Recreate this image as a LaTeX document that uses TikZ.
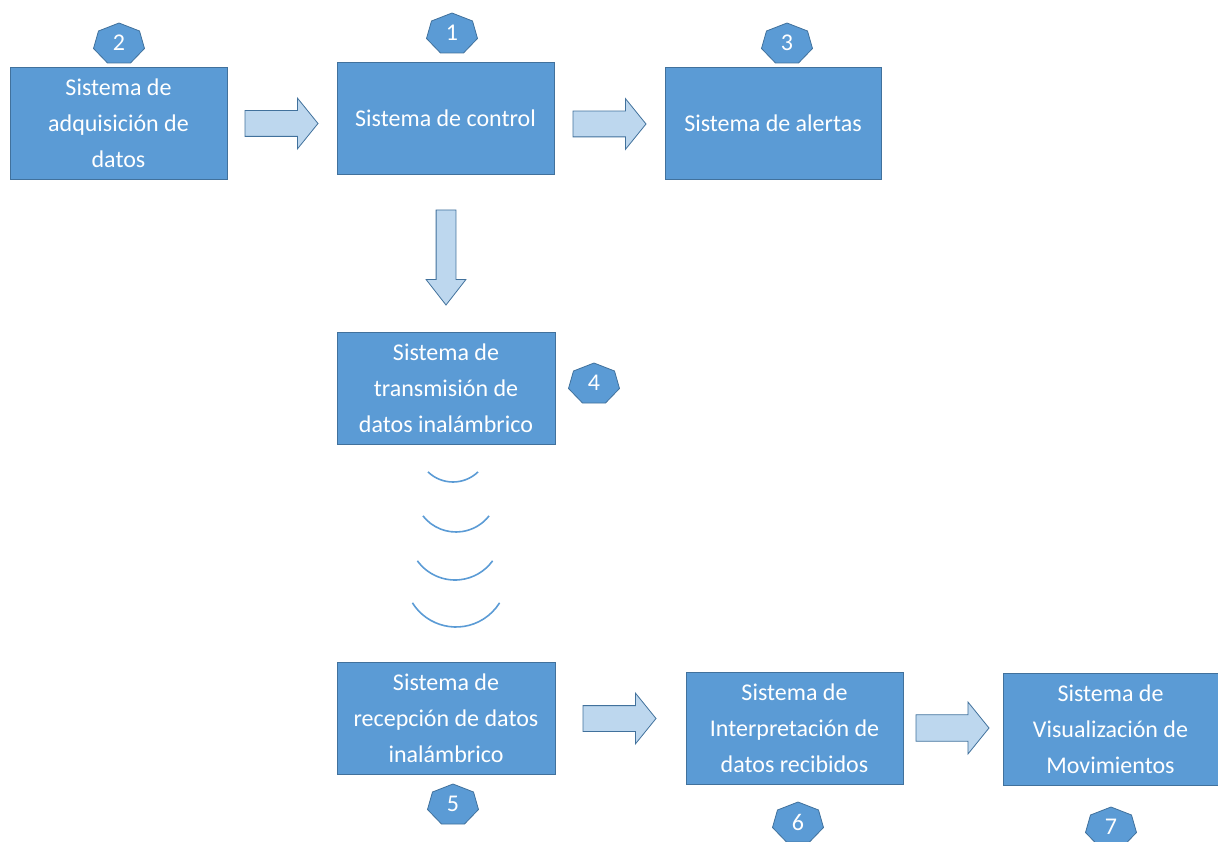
\documentclass[tikz,border=0pt]{standalone}
\usepackage{fontspec}
\setmainfont{Carlito}
\usetikzlibrary{shapes.arrows}

\definecolor{boxblue}{HTML}{5B9BD5}
\definecolor{boxline}{HTML}{41719C}
\definecolor{arrowfill}{HTML}{BDD7EE}

% numbered heptagon badge: name, centre, number
\newcommand{\heptbadge}[3]{%
    \begin{scope}[shift={#2}]
        \filldraw[badge] (0,-20) -- (20.5,-12) -- (25.5,5.5) -- (11.5,20)
            -- (-11.5,20) -- (-25.5,5.5) -- (-20.5,-12) -- cycle;
    \end{scope}
    \node[badgetext] (#1) at #2 {#3};}

\begin{document}
\begin{tikzpicture}[x=1pt,y=-1pt,
        font=\fontsize{24}{36}\selectfont,
        box/.style={draw=boxline,fill=boxblue,text=white,align=center,
            minimum width=217pt,minimum height=112pt,inner sep=0pt,
            line width=0.8pt},
        blockarrow/.style={single arrow,draw=boxline,fill=arrowfill,
            line width=0.8pt,inner sep=12.5pt,minimum width=50pt,
            minimum height=73pt,single arrow head extend=12.5pt,
            single arrow tip angle=102,anchor=tail,outer sep=0pt},
        badge/.style={draw=boxline,fill=boxblue,line width=0.8pt},
        badgetext/.style={text=white,inner sep=0pt},
        wave/.style={draw=boxblue,line width=1.6pt}]
    \useasboundingbox (0,0) rectangle (1218,842);

    % Top row
    \node[box] (adq) at (118.5,123.5) {Sistema de\\adquisición de\\datos};
    \node[box] (ctrl) at (445.5,118) {Sistema de control};
    \node[box,minimum width=216pt] (alert) at (773,123.5)
        {Sistema de alertas};
    \node[blockarrow] (a1) at (245,123.5) {};
    \node[blockarrow] (a2) at (573,124) {};
    \node[blockarrow,shape border rotate=270,inner sep=9.5pt,
        minimum width=39pt,minimum height=95pt,
        single arrow head extend=10pt,single arrow tip angle=76]
        (a3) at (446,210) {};

    % Transmitter
    \node[box,minimum width=218pt] (tx) at (446,388)
        {Sistema de\\transmisión de\\datos inalámbrico};

    % Radio waves
    \foreach \cx/\cy/\r/\a in {453/446/36/44, 456/490/42/52,
            455/533.5/46.5/54, 456/575.6/51.4/58}
        \draw[wave] (\cx,\cy) ++(90+\a:\r)
            arc[start angle=90+\a,end angle=90-\a,radius=\r];

    % Bottom row
    \node[box,minimum width=218pt] (rx) at (446,718.5)
        {Sistema de\\recepción de datos\\inalámbrico};
    \node[box] (interp) at (794.5,728)
        {Sistema de\\Interpretación de\\datos recibidos};
    \node[box,minimum width=215pt] (visu) at (1110.5,729)
        {Sistema de\\Visualización de\\Movimientos};
    \node[blockarrow] (a4) at (583,718.5) {};
    \node[blockarrow,minimum width=52pt] (a5) at (916,728) {};

    % Numbered badges
    \heptbadge{n1}{(452,33)}{1}
    \heptbadge{n2}{(119,43)}{2}
    \heptbadge{n3}{(787,43)}{3}
    \heptbadge{n4}{(594,383)}{4}
    \heptbadge{n5}{(453,804)}{5}
    \heptbadge{n6}{(798,822)}{6}
    \heptbadge{n7}{(1111,827)}{7}
\end{tikzpicture}
\end{document}
